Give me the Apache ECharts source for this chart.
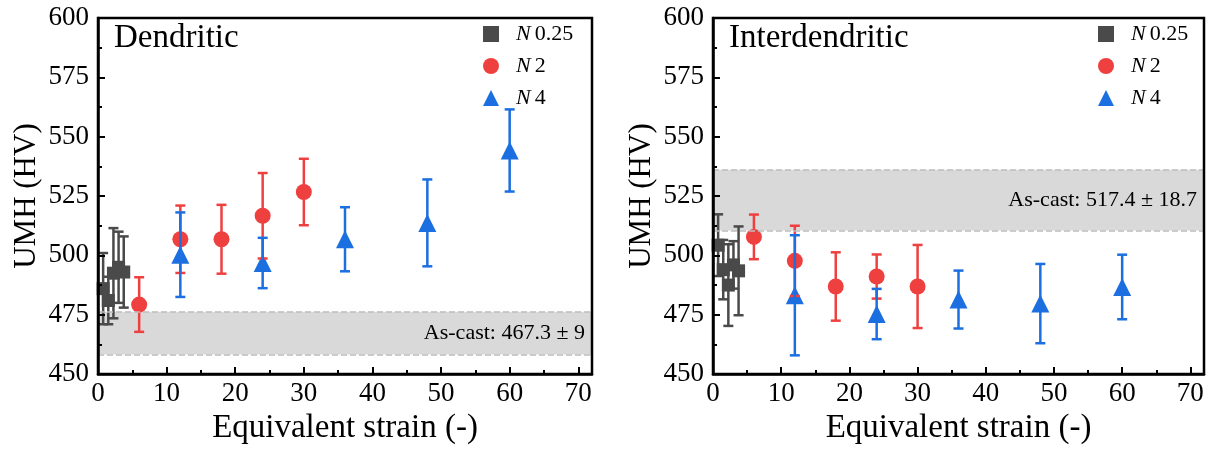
<!DOCTYPE html>
<html>
<head>
<meta charset="utf-8">
<title>UMH vs equivalent strain</title>
<script src="https://cdn.jsdelivr.net/npm/echarts@6/dist/echarts.min.js"></script>
<style>
  html, body { margin: 0; padding: 0; background: #fff; overflow: hidden; }
  #chart { width: 1222px; height: 450px; }
</style>
</head>
<body>
<div id="chart"></div>
<script>
// Equivalent strain of each measurement position, per number of turns
const strainN025 = [0.75, 1.5, 2.25, 3.0, 3.75];
const strainN2 = [6, 12, 18, 24, 30];
const strainN4 = [12, 24, 36, 48, 60];

// Dendritic micro-hardness (HV) and standard deviations
const dendN025 = [486, 481, 492.5, 495, 493];
const dendN025Sd = [15, 10, 19, 15, 15];
const dendN2 = [479.3, 506.8, 506.8, 516.7, 526.7];
const dendN2Sd = [11.5, 14.2, 14.5, 18, 14];
const dendN4 = [500.3, 496.8, 506.8, 513.7, 544.2];
const dendN4Sd = [17.8, 10.6, 13.5, 18.3, 17.3];

// Interdendritic micro-hardness (HV) and standard deviations
const interN025 = [504.3, 494, 487.5, 496, 493.5];
const interN025Sd = [13, 12.5, 17.2, 10, 18.7];
const interN2 = [507.8, 497.7, 486.9, 491.1, 486.9];
const interN2Sd = [9.4, 14.8, 14.4, 9.3, 17.5];
const interN4 = [483.2, 475.3, 481.4, 479.7, 486.7];
const interN4Sd = [25.3, 10.6, 12.2, 16.7, 13.6];

// As-cast reference hardness bands [lower, upper] and their labels
const asCastDendBand = [458.3, 476.3];
const asCastInterBand = [510.5, 536.1];
const asCastDendLabel = 'As-cast: 467.3 \u00b1 9';
const asCastInterLabel = 'As-cast: 517.4 \u00b1 18.7';

const seriesNames = ['N 0.25', 'N 2', 'N 4'];
const panelTitles = ['Dendritic', 'Interdendritic'];
const xTitle = 'Equivalent strain (-)';
const yTitle = 'UMH (HV)';

const FONT = 'Liberation Serif';
const GRAY = '#4a4a4a';
const RED = '#ef4040';
const BLUE = '#1b6fe0';

function pairs(xs, ys) { return xs.map((x, i) => [x, ys[i]]); }
function errData(xs, ys, sd) { return xs.map((x, i) => [x, ys[i] - sd[i], ys[i] + sd[i]]); }

function errorBarRender(color) {
  return function (params, api) {
    const x = api.value(0);
    const lo = api.coord([x, api.value(1)]);
    const hi = api.coord([x, api.value(2)]);
    const half = 5;
    const style = { stroke: color, lineWidth: 2.5 };
    return {
      type: 'group',
      children: [
        { type: 'line', shape: { x1: lo[0], y1: lo[1], x2: hi[0], y2: hi[1] }, style },
        { type: 'line', shape: { x1: lo[0] - half, y1: lo[1], x2: lo[0] + half, y2: lo[1] }, style },
        { type: 'line', shape: { x1: hi[0] - half, y1: hi[1], x2: hi[0] + half, y2: hi[1] }, style }
      ]
    };
  };
}

const grids = [
  { left: 98, top: 18, width: 494, height: 360 },
  { left: 713, top: 18, width: 491, height: 360 }
];

function xAxisFor(i) {
  return {
    gridIndex: i, type: 'value', min: 0, max: 72, interval: 10, z: 10,
    name: xTitle, nameLocation: 'middle', nameGap: 36,
    nameTextStyle: { fontFamily: FONT, fontSize: 33, color: '#000' },
    axisLine: { lineStyle: { color: '#000', width: 2.5 } },
    axisTick: { inside: true, length: 7, lineStyle: { color: '#000', width: 2 } },
    minorTick: { show: true, splitNumber: 2, length: 4, lineStyle: { color: '#000', width: 2 } },
    axisLabel: { fontFamily: FONT, fontSize: 27, color: '#000', margin: 6,
      showMaxLabel: false },
    splitLine: { show: false }
  };
}
function yAxisFor(i) {
  return {
    gridIndex: i, type: 'value', min: 450, max: 600, interval: 25, z: 10,
    name: yTitle, nameLocation: 'middle', nameGap: 56, nameRotate: 90,
    nameTextStyle: { fontFamily: FONT, fontSize: 31, color: '#000' },
    axisLine: { lineStyle: { color: '#000', width: 2.5 } },
    axisTick: { inside: true, length: 7, lineStyle: { color: '#000', width: 2 } },
    minorTick: { show: true, splitNumber: 2, length: 4, lineStyle: { color: '#000', width: 2 } },
    axisLabel: { fontFamily: FONT, fontSize: 27, color: '#000', margin: 9 },
    splitLine: { show: false }
  };
}

function bandSeries(i, band, label) {
  return {
    type: 'line', xAxisIndex: i, yAxisIndex: i, data: [], silent: true, z: 1,
    markArea: {
      silent: true,
      itemStyle: { color: '#d9d9d9' },
      label: { show: true, position: 'insideRight', distance: 7,
        fontFamily: FONT, fontSize: 22, color: '#000' },
      data: [[{ yAxis: band[0], name: label }, { yAxis: band[1] }]]
    },
    markLine: {
      silent: true, symbol: 'none',
      label: { show: false },
      lineStyle: { color: '#bdbdbd', type: 'dashed', width: 1.5 },
      data: [{ yAxis: band[0] }, { yAxis: band[1] }]
    }
  };
}

function pointSeries(i, name, xs, ys, sd, color, symbol, size) {
  return [
    {
      name, type: 'scatter', xAxisIndex: i, yAxisIndex: i, z: 3,
      symbol, symbolSize: size, itemStyle: { color, opacity: 1 },
      data: pairs(xs, ys)
    },
    {
      name, type: 'custom', xAxisIndex: i, yAxisIndex: i, z: 4,
      renderItem: errorBarRender(color),
      encode: { x: 0, y: [1, 2] },
      data: errData(xs, ys, sd)
    }
  ];
}

const legendRich = {
  i: { fontFamily: FONT, fontSize: 22, fontStyle: 'italic', color: '#000', padding: [0, 4, 0, 12] },
  n: { fontFamily: FONT, fontSize: 22, color: '#000' }
};
function legendFor(left) {
  return {
    left, top: 18, orient: 'vertical', itemWidth: 16, itemHeight: 16, itemGap: 10,
    data: seriesNames,
    formatter: name => '{i|N}{n|' + name.split(' ')[1] + '}',
    textStyle: { rich: legendRich }
  };
}

const option = {
  animation: false,
  backgroundColor: '#fff',
  grid: grids.map(g => Object.assign({ show: true, borderColor: '#000', borderWidth: 2.5,
    backgroundColor: 'transparent', z: 10 }, g)),
  xAxis: [xAxisFor(0), xAxisFor(1)],
  yAxis: [yAxisFor(0), yAxisFor(1)],
  legend: [legendFor(478), legendFor(1093)],
  graphic: [
    { type: 'text', left: 114, top: 22, style: { text: panelTitles[0], fontFamily: FONT, fontSize: 33, fill: '#000' } },
    { type: 'text', left: 729, top: 22, style: { text: panelTitles[1], fontFamily: FONT, fontSize: 33, fill: '#000' } }
  ],
  series: [
    bandSeries(0, asCastDendBand, asCastDendLabel),
    bandSeries(1, asCastInterBand, asCastInterLabel),
    ...pointSeries(0, seriesNames[0], strainN025, dendN025, dendN025Sd, GRAY, 'rect', 13),
    ...pointSeries(0, seriesNames[1], strainN2, dendN2, dendN2Sd, RED, 'circle', 16),
    ...pointSeries(0, seriesNames[2], strainN4, dendN4, dendN4Sd, BLUE, 'triangle', 18),
    ...pointSeries(1, seriesNames[0], strainN025, interN025, interN025Sd, GRAY, 'rect', 13),
    ...pointSeries(1, seriesNames[1], strainN2, interN2, interN2Sd, RED, 'circle', 16),
    ...pointSeries(1, seriesNames[2], strainN4, interN4, interN4Sd, BLUE, 'triangle', 18)
  ]
};

const chart = echarts.init(document.getElementById('chart'), null, { renderer: 'canvas' });
chart.setOption(option);
</script>
</body>
</html>
